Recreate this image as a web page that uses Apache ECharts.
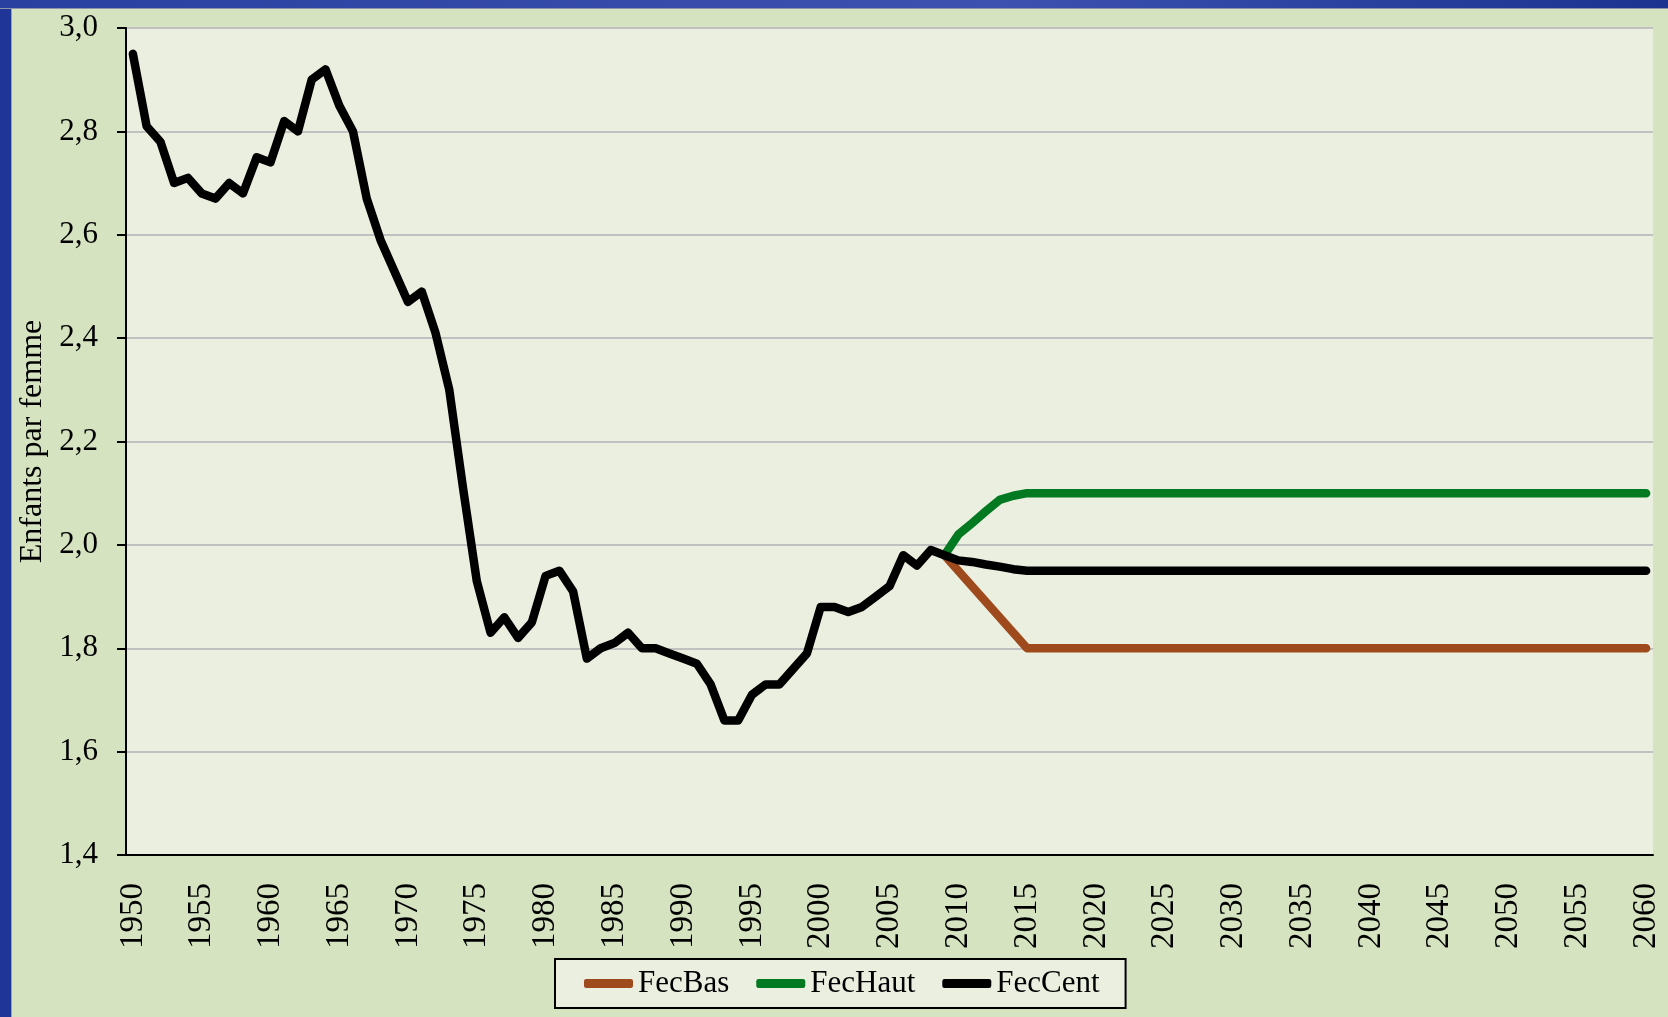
<!DOCTYPE html>
<html>
<head>
<meta charset="utf-8">
<script src="https://cdn.jsdelivr.net/npm/echarts@6/dist/echarts.min.js"></script>
<style>
  html, body { margin: 0; padding: 0; }
  #main {
    width: 1668px;
    height: 1017px;
    background:
      linear-gradient(to right, #2a40a0, #3d52b0 60%, #1c3390) left top / 100% 8px no-repeat,
      linear-gradient(#8c95a8, #8c95a8) left 8px / 100% 1px no-repeat,
      linear-gradient(#1f3597, #1f3597) left top / 11px 100% no-repeat,
      linear-gradient(#9aa3a0, #9aa3a0) 11px top / 1px 100% no-repeat,
      #d6e3c1;
  }
</style>
</head>
<body>
<div id="main"></div>
<script>
var chartDom = document.getElementById('main')
var myChart = echarts.init(chartDom)
var option

// années 1950 - 2060
const years = []
for (let y = 1950; y <= 2060; y++) years.push(String(y))

// années de projection 2009 - 2060
const projYears = years.slice(years.indexOf('2009'))

// FecCent observé 1950 - 2009
const fecCentHist = [
  2.95, 2.81, 2.78, 2.70, 2.71, 2.68, 2.67, 2.70, 2.68, 2.75,
  2.74, 2.82, 2.80, 2.90, 2.92, 2.85, 2.80, 2.67, 2.59, 2.53,
  2.47, 2.49, 2.41, 2.30, 2.11, 1.93, 1.83, 1.86, 1.82, 1.85,
  1.94, 1.95, 1.91, 1.78, 1.80, 1.81, 1.83, 1.80, 1.80, 1.79,
  1.78, 1.77, 1.73, 1.66, 1.66, 1.71, 1.73, 1.73, 1.76, 1.79,
  1.88, 1.88, 1.87, 1.88, 1.90, 1.92, 1.98, 1.96, 1.99, 1.98
]
// FecCent projeté 2010 - 2060
const fecCentProj = [
  1.970, 1.967, 1.962, 1.958, 1.953,
  1.95, 1.95, 1.95, 1.95, 1.95, 1.95, 1.95, 1.95, 1.95, 1.95,
  1.95, 1.95, 1.95, 1.95, 1.95, 1.95, 1.95, 1.95, 1.95, 1.95,
  1.95, 1.95, 1.95, 1.95, 1.95, 1.95, 1.95, 1.95, 1.95, 1.95,
  1.95, 1.95, 1.95, 1.95, 1.95, 1.95, 1.95, 1.95, 1.95, 1.95,
  1.95, 1.95, 1.95, 1.95, 1.95, 1.95
]
// FecBas 2009 - 2060
const fecBas = [
  1.98, 1.95, 1.92, 1.89, 1.86, 1.83,
  1.80, 1.80, 1.80, 1.80, 1.80, 1.80, 1.80, 1.80, 1.80, 1.80,
  1.80, 1.80, 1.80, 1.80, 1.80, 1.80, 1.80, 1.80, 1.80, 1.80,
  1.80, 1.80, 1.80, 1.80, 1.80, 1.80, 1.80, 1.80, 1.80, 1.80,
  1.80, 1.80, 1.80, 1.80, 1.80, 1.80, 1.80, 1.80, 1.80, 1.80,
  1.80, 1.80, 1.80, 1.80, 1.80, 1.80
]
// FecHaut 2009 - 2060
const fecHaut = [
  1.98, 2.02, 2.042, 2.065, 2.087, 2.095,
  2.10, 2.10, 2.10, 2.10, 2.10, 2.10, 2.10, 2.10, 2.10, 2.10,
  2.10, 2.10, 2.10, 2.10, 2.10, 2.10, 2.10, 2.10, 2.10, 2.10,
  2.10, 2.10, 2.10, 2.10, 2.10, 2.10, 2.10, 2.10, 2.10, 2.10,
  2.10, 2.10, 2.10, 2.10, 2.10, 2.10, 2.10, 2.10, 2.10, 2.10,
  2.10, 2.10, 2.10, 2.10, 2.10, 2.10
]

const fontFamily = "'Liberation Serif', 'Times New Roman', serif"

const lineSeries = (name, color, width, data) => ({
  name: name,
  type: 'line',
  symbol: 'none',
  color: color,
  lineStyle: { color: color, width: width, cap: 'round', join: 'round' },
  data: data
})

option = {
  animation: false,
  textStyle: { fontFamily: fontFamily, color: '#000' },
  grid: {
    left: 126,
    right: 15,
    top: 28,
    bottom: 162,
    show: true,
    backgroundColor: '#ebefe0',
    borderWidth: 0
  },
  legend: {
    data: ['FecBas', 'FecHaut', 'FecCent'],
    left: 555,
    top: 959,
    padding: [9, 26, 9, 29],
    itemWidth: 49,
    itemHeight: 9,
    itemGap: 27,
    icon: 'roundRect',
    backgroundColor: '#ebefe0',
    borderColor: '#000',
    borderWidth: 2,
    textStyle: { fontFamily: fontFamily, fontSize: 31, color: '#000' }
  },
  xAxis: {
    type: 'category',
    data: years,
    boundaryGap: true,
    axisLine: { lineStyle: { color: '#000', width: 2 } },
    axisTick: { interval: 4, length: 8, lineStyle: { color: '#000', width: 2 } },
    axisLabel: {
      interval: 4,
      rotate: 90,
      margin: 28,
      fontFamily: fontFamily,
      fontSize: 33,
      color: '#000'
    },
    splitLine: { show: false }
  },
  yAxis: {
    type: 'value',
    min: 1.4,
    max: 3.0,
    interval: 0.2,
    name: 'Enfants par femme',
    nameLocation: 'middle',
    nameRotate: 90,
    nameGap: 72,
    nameTextStyle: { fontFamily: fontFamily, fontSize: 32, color: '#000' },
    axisLine: { show: true, lineStyle: { color: '#000', width: 2 } },
    axisTick: { show: true, length: 9, lineStyle: { color: '#000', width: 2 } },
    axisLabel: {
      margin: 28,
      fontFamily: fontFamily,
      fontSize: 31,
      color: '#000',
      formatter: v => v.toFixed(1).replace('.', ',')
    },
    splitLine: { lineStyle: { color: '#c0c0c0', width: 2 } }
  },
  series: [
    lineSeries('FecBas', '#9e4a1c', 8.5, projYears.map((y, i) => [y, fecBas[i]])),
    lineSeries('FecHaut', '#037a22', 8.5, projYears.map((y, i) => [y, fecHaut[i]])),
    lineSeries('FecCent', '#000000', 8.5, fecCentHist.concat(fecCentProj))
  ]
}

option && myChart.setOption(option)
</script>
</body>
</html>
